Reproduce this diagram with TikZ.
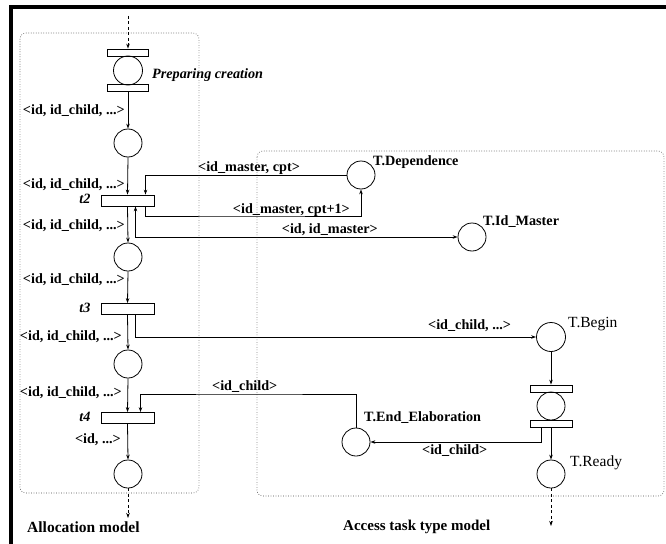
\documentclass[tikz,border=0pt]{standalone}
\usepackage{fontspec}
\setmainfont{Liberation Serif}
\usetikzlibrary{arrows.meta}
\tikzset{
  lbl/.style={font=\fontsize{14.2}{15}\selectfont\bfseries, inner sep=0pt},
  lbli/.style={font=\fontsize{14.2}{15}\selectfont\bfseries\itshape, inner sep=0pt},
  lbln/.style={font=\fontsize{15.5}{16}\selectfont, inner sep=0pt},
  place/.style={circle, draw, line width=0.8pt, minimum size=28pt, inner sep=0pt},
  trans/.style={rectangle, draw, line width=0.8pt, minimum width=53pt, minimum height=11pt, inner sep=0pt},
  bar/.style={rectangle, draw, line width=0.8pt, minimum width=41pt, minimum height=7pt, inner sep=0pt},
  arr/.style={line width=0.8pt, -{Stealth[length=5pt,width=3.5pt]}},
  biarr/.style={line width=0.8pt, {Stealth[length=5pt,width=3.5pt]}-{Stealth[length=5pt,width=3.5pt]}},
  darr/.style={arr, dash pattern=on 3pt off 2.5pt},
  zone/.style={draw=black!70, line width=0.6pt, dash pattern=on 0.7pt off 1.8pt, rounded corners=6pt}
}
\begin{document}
\begin{tikzpicture}[x=1pt,y=-1pt]
\useasboundingbox (0,0) rectangle (666,543);
\fill[white] (0,0) rectangle (666,543);
% frame
\draw[line width=4pt] (11,560) -- (11,7.5) -- (680,7.5);
% zones
\draw[zone] (20,33) rectangle (199,493);
\draw[zone] (257,151) rectangle (664,496);

% left column
\node[bar] (ptop) at (128,52.5) {};
\node[place, minimum size=29pt] (pc) at (128,70.5) {};
\node[bar] (pbot) at (128,87.5) {};
\node[lbli, anchor=west] (pclbl) at (152,75) {Preparing creation};
\node[place] (c2) at (128,143) {};
\node[trans] (t2) at (127.5,200.5) {};
\node[place] (c3) at (128,257) {};
\node[trans] (t3) at (127.5,309) {};
\node[place] (c4) at (128,364) {};
\node[trans] (t4) at (127.5,418) {};
\node[place] (c5) at (128,474) {};
\node[lbli] (t2l) at (85,199) {t2};
\node[lbli] (t3l) at (85,308) {t3};
\node[lbli] (t4l) at (85,417) {t4};

\coordinate (ltop) at (128,16);
\coordinate (lbot) at (128,518);
\draw[darr] (ltop) -- (ptop.north);
\draw[arr] (pbot.south) -- (c2.north);
\draw[arr] (c2.south) -- (t2.north);
\draw[arr] (t2.south) -- (c3.north);
\draw[arr] (c3.south) -- (t3.north);
\draw[arr] (t3.south) -- (c4.north);
\draw[arr] (c4.south) -- (t4.north);
\draw[arr] (t4.south) -- (c5.north);
\draw[darr] (c5.south) -- (lbot);

\node[lbl, anchor=east] (l1) at (125,111) {<id, id\_child, ...>};
\node[lbl, anchor=east] (l2) at (125,185) {<id, id\_child, ...>};
\node[lbl, anchor=east] (l3) at (125,226) {<id, id\_child, ...>};
\node[lbl, anchor=east] (l4) at (125,280) {<id, id\_child, ...>};
\node[lbl, anchor=east] (l5) at (122,337) {<id, id\_child, ...>};
\node[lbl, anchor=east] (l6) at (122,393) {<id, id\_child, ...>};
\node[lbl, anchor=east] (l7) at (121,440) {<id, ...>};
\node[lbl, anchor=west, font=\fontsize{15.5}{16}\selectfont\bfseries] (alloc) at (27,527) {Allocation model};

% right part
\node[place] (dep) at (361,175) {};
\node[lbl, anchor=west] (depl) at (373,162) {T.Dependence};
\node[place] (idm) at (472,237) {};
\node[lbl, anchor=west] (idml) at (483,222) {T.Id\_Master};
\node[place, minimum size=29pt] (beg) at (551,337) {};
\node[lbln, anchor=west] (begl) at (568,324) {T.Begin};
\node[bar, minimum width=42pt] (rtop) at (551,388.5) {};
\node[place] (rc) at (551,406) {};
\node[bar, minimum width=42pt] (rbot) at (551,423.5) {};
\node[place] (ready) at (551,474) {};
\node[lbln, anchor=west] (readyl) at (570,463) {T.Ready};
\node[place] (endel) at (356,442) {};
\node[lbl, anchor=west] (endl) at (364,418) {T.End\_Elaboration};
\node[lbl, anchor=west, font=\fontsize{15}{16}\selectfont\bfseries] (access) at (343,527) {Access task type model};
\coordinate (rbotc) at (551,526);

% connectors
\draw[arr] (dep.west) -| ([xshift=18pt]t2.north);
\coordinate (k1) at (250,216);
\draw[arr] ([xshift=18pt]t2.south) |- (k1) -| (dep.south);
\draw[biarr] (idm.west) -| ([xshift=8pt]t2.south);
\draw[arr] ([xshift=8pt]t3.south) |- (beg.west);
\coordinate (k3) at (250,394);
\draw[arr] (endel.north) |- (k3) -| ([xshift=13pt]t4.north);
\draw[arr] (beg.south) -- (rtop.north);
\draw[arr] (rbot.south) -- (ready.north);
\draw[arr] ([xshift=-10pt]rbot.south) |- (endel.east);
\draw[darr] (ready.south) -- (rbotc);

\node[lbl, anchor=west] (m1) at (198,168) {<id\_master, cpt>};
\node[lbl, anchor=east] (m2) at (350,210) {<id\_master, cpt+1>};
\node[lbl, anchor=east] (m3) at (378,230) {<id, id\_master>};
\node[lbl, anchor=west] (m4) at (428,326) {<id\_child, ...>};
\node[lbl, anchor=west] (m5) at (212,387) {<id\_child>};
\node[lbl, anchor=west] (m6) at (422,451) {<id\_child>};
\end{tikzpicture}
\end{document}
